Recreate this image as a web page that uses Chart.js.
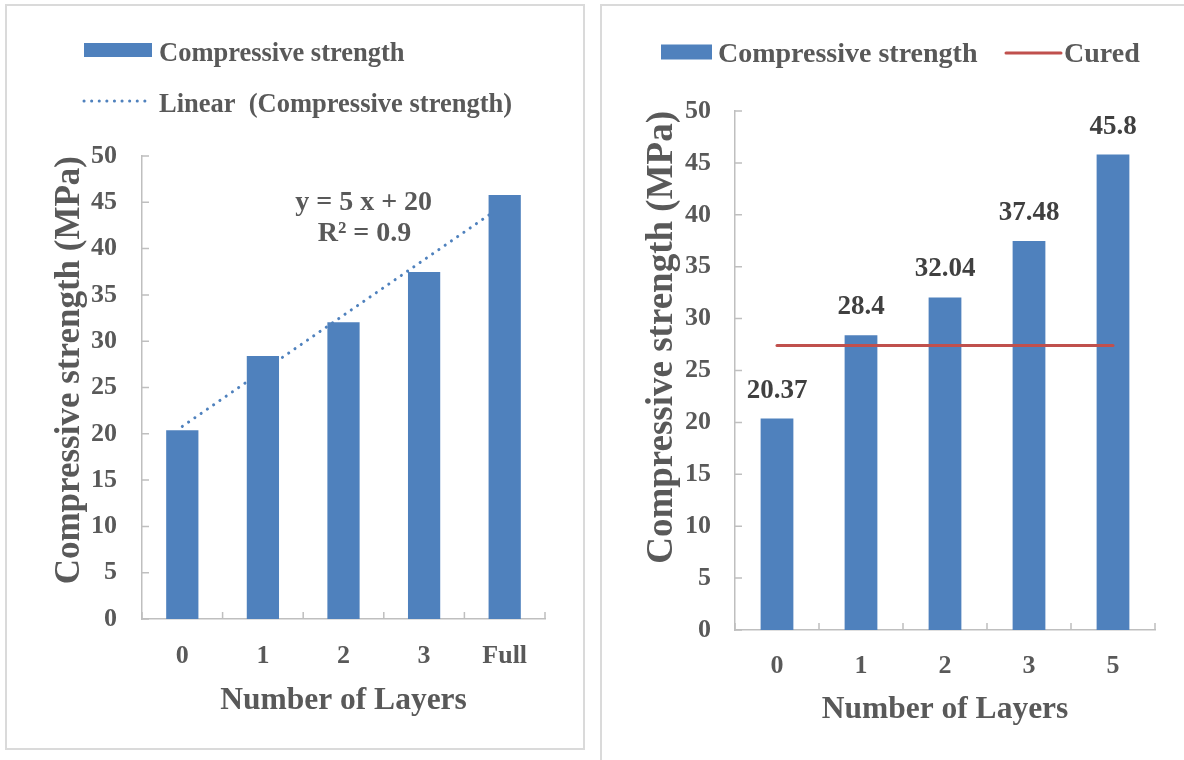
<!DOCTYPE html>
<html>
<head>
<meta charset="utf-8">
<script src="https://cdn.jsdelivr.net/npm/chart.js@4.4.1/dist/chart.umd.min.js"></script>
<style>
  html, body { margin: 0; padding: 0; background: #fff; overflow: hidden; width: 1184px; height: 760px; }
  .frame { position: absolute; box-sizing: border-box; border: 2px solid #DADADA; }
  canvas { position: absolute; }
</style>
</head>
<body>
<div class="frame" style="left:5px; top:4px; width:580px; height:746px;"></div>
<div class="frame" style="left:600px; top:4px; width:620px; height:800px;"></div>
<canvas id="layersChart" width="577" height="743" style="left:6px; top:5px;"></canvas>
<canvas id="curedChart" width="583" height="755" style="left:601px; top:5px;"></canvas>
<script>
// left panel
const layerLabelsA = ['0', '1', '2', '3', 'Full'];
const strengthA = [20.37, 28.4, 32.04, 37.48, 45.8];
const trendA = [20.8, null, null, null, 44.8];   // trendline ends

// right panel
const layerLabelsB = ['0', '1', '2', '3', '5'];
const strengthB = [20.37, 28.4, 32.04, 37.48, 45.8];
const curedB = [27.4, 27.4, 27.4, 27.4, 27.4];

// value axis
const yMin = 0, yMax = 50, yStep = 5;

const FONT = "'Liberation Serif', 'Times New Roman', serif";
const TEXT = '#595959';
const BLUE = '#4F81BD';
const RED = '#C0504D';
const AXIS = '#BFBFBF';

// Excel style tick marks pointing into the plot
const insideTicks = {
    id: 'insideTicks',
    beforeDatasetsDraw(chart) {
        const { ctx, scales: { x, y } } = chart;
        const n = chart.data.labels.length;
        ctx.save();
        ctx.strokeStyle = AXIS;
        ctx.lineWidth = 1.5;
        ctx.beginPath();
        for (let i = 0; i <= n; i++) {
            const px = x.left + (x.right - x.left) * i / n;
            ctx.moveTo(px, y.bottom);
            ctx.lineTo(px, y.bottom - 7);
        }
        y.ticks.forEach((t, i) => {
            const py = y.getPixelForTick(i);
            ctx.moveTo(x.left, py);
            ctx.lineTo(x.left + 7, py);
        });
        ctx.stroke();
        ctx.restore();
    }
};

// legend drawn by hand so it can sit where the original one sits
const sideLegend = {
    id: 'sideLegend',
    afterDraw(chart, args, opts) {
        const ctx = chart.ctx;
        ctx.save();
        ctx.font = `bold ${opts.size}px ${FONT}`;
        ctx.textBaseline = 'middle';
        ctx.textAlign = 'left';
        opts.items.forEach(it => {
            const ds = chart.data.datasets[it.dataset];
            if (it.kind === 'box') {
                ctx.fillStyle = ds.backgroundColor;
                ctx.fillRect(it.x, it.y - it.h / 2, it.w, it.h);
            } else {
                ctx.strokeStyle = ds.borderColor;
                ctx.lineWidth = ds.borderWidth;
                ctx.lineCap = 'round';
                ctx.setLineDash(ds.borderDash || []);
                ctx.beginPath();
                ctx.moveTo(it.x, it.y);
                ctx.lineTo(it.x + it.w, it.y);
                ctx.stroke();
                ctx.setLineDash([]);
            }
            ctx.fillStyle = TEXT;
            ctx.fillText(ds.label, it.tx, it.ty);
        });
        ctx.restore();
    }
};

const trendNote = {
    id: 'trendNote',
    afterDatasetsDraw(chart, args, opts) {
        const { ctx, scales: { x, y } } = chart;
        ctx.save();
        ctx.font = `bold ${opts.size}px ${FONT}`;
        ctx.fillStyle = TEXT;
        ctx.textAlign = 'center';
        ctx.textBaseline = 'middle';
        opts.lines.forEach(l => {
            ctx.fillText(l.text, x.getPixelForValue(l.at[0]), y.getPixelForValue(l.at[1]));
        });
        ctx.restore();
    }
};

const barValues = {
    id: 'barValues',
    afterDatasetsDraw(chart, args, opts) {
        const ctx = chart.ctx;
        const meta = chart.getDatasetMeta(0);
        const values = chart.data.datasets[0].data;
        ctx.save();
        ctx.font = `bold ${opts.size}px ${FONT}`;
        ctx.fillStyle = '#404040';
        ctx.textAlign = 'center';
        ctx.textBaseline = 'middle';
        meta.data.forEach((bar, i) => {
            ctx.fillText(String(values[i]), bar.x, bar.y - opts.offset);
        });
        ctx.restore();
    }
};

function tickFont(size) {
    return { family: FONT, size: size, weight: 'bold' };
}

new Chart(document.getElementById('layersChart'), {
    type: 'bar',
    data: {
        labels: layerLabelsA,
        datasets: [
            {
                type: 'bar',
                label: 'Compressive strength',
                data: strengthA,
                backgroundColor: BLUE,
                barPercentage: 0.4,
                categoryPercentage: 1,
                order: 1,
            },
            {
                type: 'line',
                label: 'Linear  (Compressive strength)',
                data: trendA,
                borderColor: BLUE,
                borderWidth: 3,
                borderDash: [0.1, 7.5],
                borderCapStyle: 'round',
                pointRadius: 0,
                spanGaps: true,
                order: 2,
            },
        ],
    },
    options: {
        responsive: false,
        animation: false,
        layout: { padding: { left: 0, top: 151, right: 38, bottom: 0 } },
        plugins: {
            legend: { display: false },
            tooltip: { enabled: false },
            sideLegend: {
                size: 26.5,
                items: [
                    { dataset: 0, kind: 'box', x: 78, y: 45, w: 68, h: 14, tx: 153, ty: 49 },
                    { dataset: 1, kind: 'line', x: 78, y: 96, w: 64, tx: 153, ty: 100 },
                ],
            },
            trendNote: {
                size: 28,
                lines: [
                    { text: 'y = 5 x + 20', at: [2.25, 45] },
                    { text: 'R² = 0.9', at: [2.26, 41.6] },
                ],
            },
        },
        scales: {
            x: {
                grid: { display: false, drawTicks: false },
                border: { display: true, color: AXIS, width: 1.5 },
                ticks: { color: TEXT, font: tickFont(26), padding: 22 },
                title: {
                    display: true,
                    text: 'Number of Layers',
                    color: TEXT,
                    font: tickFont(31.5),
                    padding: { top: 0, bottom: 28 },
                },
                afterFit: s => { s.height = 129; },
            },
            y: {
                min: yMin,
                max: yMax,
                grid: { display: false, drawTicks: false },
                border: { display: true, color: AXIS, width: 1.5 },
                ticks: { stepSize: yStep, color: TEXT, font: tickFont(26), padding: 25 },
                title: {
                    display: true,
                    text: 'Compressive strength (MPa)',
                    align: 'end',
                    color: TEXT,
                    font: tickFont(35),
                    padding: { top: 43, bottom: 0 },
                },
                afterFit: s => { s.width = 136; },
            },
        },
    },
    plugins: [insideTicks, sideLegend, trendNote],
});

new Chart(document.getElementById('curedChart'), {
    type: 'bar',
    data: {
        labels: layerLabelsB,
        datasets: [
            {
                type: 'bar',
                label: 'Compressive strength',
                data: strengthB,
                backgroundColor: BLUE,
                barPercentage: 0.39,
                categoryPercentage: 1,
                order: 1,
            },
            {
                type: 'line',
                label: 'Cured',
                data: curedB,
                borderColor: RED,
                borderWidth: 3,
                borderCapStyle: 'round',
                pointRadius: 0,
                order: 0,
            },
        ],
    },
    options: {
        responsive: false,
        animation: false,
        layout: { padding: { left: 0, top: 106, right: 29, bottom: 0 } },
        plugins: {
            legend: { display: false },
            tooltip: { enabled: false },
            sideLegend: {
                size: 28,
                items: [
                    { dataset: 0, kind: 'box', x: 60, y: 47, w: 51, h: 15, tx: 117, ty: 50 },
                    { dataset: 1, kind: 'line', x: 405, y: 48, w: 55, tx: 463, ty: 50 },
                ],
            },
            barValues: { size: 27, offset: 28 },
        },
        scales: {
            x: {
                grid: { display: false, drawTicks: false },
                border: { display: true, color: AXIS, width: 1.5 },
                ticks: { color: TEXT, font: tickFont(26), padding: 21 },
                title: {
                    display: true,
                    text: 'Number of Layers',
                    color: TEXT,
                    font: tickFont(31.5),
                    padding: { top: 0, bottom: 31 },
                },
                afterFit: s => { s.height = 130; },
            },
            y: {
                min: yMin,
                max: yMax,
                grid: { display: false, drawTicks: false },
                border: { display: true, color: AXIS, width: 1.5 },
                ticks: { stepSize: yStep, color: TEXT, font: tickFont(26), padding: 24 },
                title: {
                    display: true,
                    text: 'Compressive strength (MPa)',
                    align: 'end',
                    color: TEXT,
                    font: tickFont(37),
                    padding: { top: 39, bottom: 0 },
                },
                afterFit: s => { s.width = 134; },
            },
        },
    },
    plugins: [insideTicks, sideLegend, barValues],
});
</script>
</body>
</html>
